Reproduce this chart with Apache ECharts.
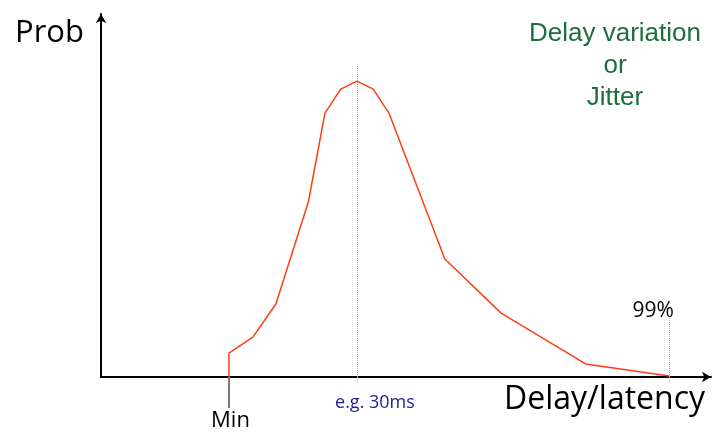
<!DOCTYPE html>
<html>
<head>
<meta charset="utf-8">
<script src="https://cdn.jsdelivr.net/npm/echarts@6/dist/echarts.min.js"></script>
<style>html,body{margin:0;padding:0;background:#fff}#c{width:716px;height:434px}</style>
</head>
<body>
<div id="c"></div>
<script>
// Delay (ms) and probability values
const delayMs = [15, 15, 17.8, 20.5, 24.3, 26.25, 28.1, 30, 31.9, 33.75, 40.3, 46.9, 56.8, 66.6];
const prob    = [0, 6.6, 11.0, 20.1, 48.2, 72.7, 79.3, 81.5, 79.3, 72.7, 32.5, 17.6, 3.6, 0.3];
const minDelay = 15;
const typicalDelay = 30;
const p99Delay = 66.6;
const peakGuideTop = 86;
const p99GuideTop = 16.3;
const labels = { y: 'Prob', x: 'Delay/latency', min: 'Min', typical: 'e.g. 30ms', p99: '99%', note: 'Delay variation\nor\nJitter' };

const comic = '"Comic Sans MS", "Open Sans", sans-serif';
const chart = echarts.init(document.getElementById('c'), null, { renderer: 'canvas' });
chart.setOption({
  animation: false,
  grid: { left: 101, right: 5, top: 14, bottom: 57 },
  xAxis: [{
    type: 'value', min: 0, max: 71.5, position: 'bottom',
    axisLine: { show: true, symbol: ['none', 'arrow'], symbolSize: [8, 9], lineStyle: { color: '#000', width: 2 } },
    axisTick: { show: true, customValues: [minDelay], length: 31, lineStyle: { color: '#7a7a7a', width: 2 } },
    axisLabel: { show: true, customValues: [minDelay], formatter: () => labels.min, margin: 33, fontFamily: comic, fontSize: 22, color: '#000', padding: [0, 0, 0, 3] },
    splitLine: { show: false }
  }, {
    type: 'value', min: 0, max: 71.5, position: 'bottom',
    axisLine: { show: false },
    axisTick: { show: true, customValues: [typicalDelay, p99Delay], length: 6, lineStyle: { color: '#aaa', width: 1, type: 'dotted' } },
    axisLabel: { show: true, customValues: [typicalDelay], formatter: () => labels.typical, margin: 17, fontFamily: comic, fontSize: 18, color: '#1c1c9a', padding: [0, 0, 0, 36] },
    splitLine: { show: false }
  }],
  yAxis: {
    type: 'value', min: 0, max: 100,
    axisLine: { show: true, symbol: ['none', 'arrow'], symbolSize: [8, 9], lineStyle: { color: '#000', width: 2 } },
    axisTick: { show: false }, axisLabel: { show: false }, splitLine: { show: false }
  },
  series: [{
    type: 'line',
    data: delayMs.map((d, i) => [d, prob[i]]),
    showSymbol: false, symbol: 'none',
    lineStyle: { color: '#ff3d12', width: 1.5 },
    z: 3,
    markLine: {
      silent: true, symbol: ['none', 'none'],
      lineStyle: { color: '#aaa', width: 1, type: 'dotted' },
      data: [
        [{ coord: [typicalDelay, 0], label: { show: false } }, { coord: [typicalDelay, peakGuideTop] }],
        [{ coord: [p99Delay, 0], label: { show: true, position: 'end', formatter: labels.p99, fontFamily: comic, fontSize: 21, color: '#000', offset: [-16, 4], distance: 0 } }, { coord: [p99Delay, p99GuideTop] }]
      ]
    }
  }],
  graphic: [
    { type: 'text', x: 15, y: 33, style: { text: labels.y, font: '31px ' + comic, fill: '#000', textVerticalAlign: 'middle' } },
    { type: 'text', x: 504, y: 400, style: { text: labels.x, font: '32px ' + comic, fill: '#000', textVerticalAlign: 'middle' } },
    { type: 'text', x: 615, y: 18, style: { text: labels.note, font: '26px "Liberation Sans", Arial, sans-serif', lineHeight: 32, fill: '#1d6e3c', textAlign: 'center', textVerticalAlign: 'top' } }
  ]
});
</script>
</body>
</html>
